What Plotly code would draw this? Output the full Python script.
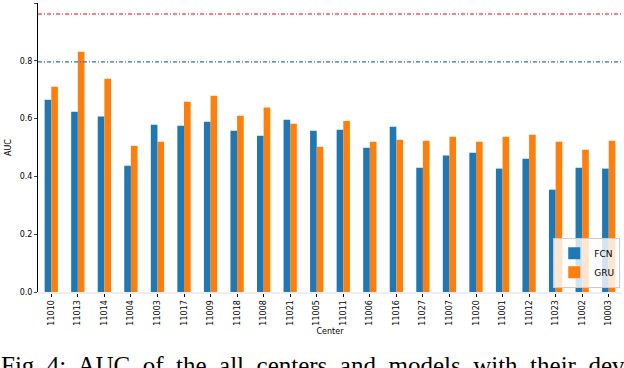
import plotly.graph_objects as go

centers = ["11010", "11013", "11014", "11004", "11003", "11017", "11009", "11018",
           "11008", "11021", "11005", "11011", "11006", "11016", "11027", "11007",
           "11020", "11001", "11012", "11023", "11002", "10003"]
fcn = [0.665, 0.624, 0.607, 0.437, 0.579, 0.575, 0.589, 0.558, 0.541, 0.596, 0.558,
       0.561, 0.499, 0.572, 0.430, 0.472, 0.482, 0.427, 0.461, 0.354, 0.430, 0.427]
gru = [0.710, 0.831, 0.738, 0.506, 0.520, 0.658, 0.679, 0.610, 0.638, 0.582, 0.503,
       0.592, 0.520, 0.527, 0.523, 0.537, 0.520, 0.537, 0.544, 0.520, 0.492, 0.523]
ref_red = 0.962
ref_blue = 0.796
yticks = [0.0, 0.2, 0.4, 0.6, 0.8, 1.0]

fig = go.Figure()
fig.add_trace(go.Bar(x=centers, y=fcn, name="FCN", marker_color="#1f77b4", marker_line_width=0))
fig.add_trace(go.Bar(x=centers, y=gru, name="GRU", marker_color="#ff7f0e", marker_line_width=0))

fig.add_shape(type="line", xref="paper", x0=0, x1=1, yref="y", y0=ref_red, y1=ref_red,
              line=dict(color="red", width=1.2, dash="4px,2px,1px,2px"))
fig.add_shape(type="line", xref="paper", x0=0, x1=1, yref="y", y0=ref_blue, y1=ref_blue,
              line=dict(color="#1f77b4", width=1.2, dash="4px,2px,1px,2px"))

fig.add_annotation(text="Fig. 4:  AUC  of  the  all  centers  and  models  with  their  deviation",
                   xref="paper", yref="paper", x=-0.066, y=-0.2, xanchor="left", yanchor="top",
                   showarrow=False, font=dict(family="Liberation Serif", size=25, color="black"))

fig.update_layout(
    width=624, height=368,
    margin=dict(l=38, r=2, t=3, b=76, autoexpand=False),
    paper_bgcolor="white", plot_bgcolor="white",
    barmode="group", bargap=0.5, bargroupgap=0,
    font=dict(family="DejaVu Sans", size=8, color="black"),
    legend=dict(x=0.997, y=0.015, xanchor="right", yanchor="bottom",
                bgcolor="rgba(255,255,255,0.8)", bordercolor="#cccccc", borderwidth=1,
                font=dict(size=9), itemwidth=30, tracegroupgap=0),
    xaxis=dict(title=dict(text="Center", font=dict(size=8), standoff=4), automargin=False,
               tickangle=-90, range=[-0.5, 21.5], showline=True, linecolor="#eeeeee",
               linewidth=2, ticks="outside", ticklen=3, tickcolor="black", showgrid=False),
    yaxis=dict(title=dict(text="AUC", font=dict(size=8), standoff=6), automargin=False,
               range=[0, 1.0], tickvals=yticks, ticktext=[f"{v:.1f}" for v in yticks],
               showline=True, linecolor="black", linewidth=1, ticks="outside", ticklen=3,
               showgrid=False, zeroline=False),
)
fig.write_html("out.html", config={"displayModeBar": False},
               post_script="document.body.style.margin='0';document.body.style.overflow='hidden';")
